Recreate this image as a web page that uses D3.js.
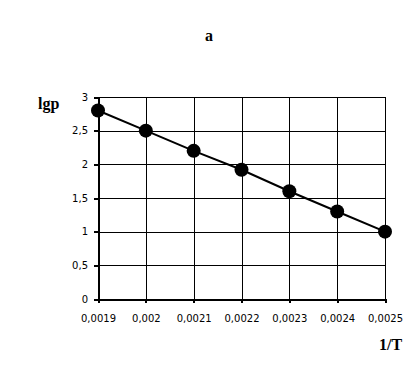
<!DOCTYPE html>
<html>
<head>
<meta charset="utf-8">
<script src="https://cdn.jsdelivr.net/npm/d3@7"></script>
<style>
  body { margin: 0; background: #fff; }
  svg { display: block; }
  .tick text { font-family: "DejaVu Sans", Verdana, sans-serif; font-size: 10px; fill: #000; }
  .lbl { font-family: "Liberation Serif", "Times New Roman", serif; font-weight: bold; font-size: 16px; }
</style>
</head>
<body>
<svg id="chart" width="418" height="389"></svg>
<script>
const invT = [0.0019, 0.002, 0.0021, 0.0022, 0.0023, 0.0024, 0.0025];
const lgp = [2.8, 2.5, 2.2, 1.92, 1.6, 1.3, 1.0];
const xTicks = [0.0019, 0.002, 0.0021, 0.0022, 0.0023, 0.0024, 0.0025];
const yTicks = [0, 0.5, 1, 1.5, 2, 2.5, 3];

const svg = d3.select("#chart");
const margin = { left: 98, right: 33, top: 97, bottom: 90 };
const width = 418 - margin.left - margin.right;
const height = 389 - margin.top - margin.bottom;

const g = svg.append("g")
    .attr("transform", "translate(" + margin.left + "," + margin.top + ")");

const x = d3.scaleLinear().domain([0.0019, 0.0025]).range([0, width]);
const y = d3.scaleLinear().domain([0, 3]).range([height, 0]);

const fmt = d => String(d).replace(".", ",");

// grid
const grid = g.append("g").attr("shape-rendering", "crispEdges");
grid.selectAll(".hgrid").data(yTicks.slice(1)).enter().append("line")
    .attr("x1", 0).attr("x2", width)
    .attr("y1", d => Math.round(y(d)) + 0.5).attr("y2", d => Math.round(y(d)) + 0.5)
    .attr("stroke", "#000").attr("stroke-width", 1);
grid.selectAll(".vgrid").data(xTicks.slice(1)).enter().append("line")
    .attr("x1", d => Math.round(x(d)) + 0.5).attr("x2", d => Math.round(x(d)) + 0.5)
    .attr("y1", 0).attr("y2", height)
    .attr("stroke", "#000").attr("stroke-width", 1);

// axes
const xAxis = g.append("g")
    .attr("transform", "translate(0," + height + ")")
    .call(d3.axisBottom(x).tickValues(xTicks).tickFormat(fmt).tickSize(4).tickPadding(12));
const yAxis = g.append("g")
    .call(d3.axisLeft(y).tickValues(yTicks).tickFormat(fmt).tickSize(4).tickPadding(6));
[xAxis, yAxis].forEach(function(ax) {
    ax.attr("shape-rendering", "crispEdges");
    ax.select(".domain").attr("stroke", "#000").attr("stroke-width", 2);
    ax.selectAll(".tick line").attr("stroke", "#000").attr("stroke-width", 2);
});

// series
const pts = invT.map((v, i) => [v, lgp[i]]);
g.append("path")
    .datum(pts)
    .attr("fill", "none")
    .attr("stroke", "#000")
    .attr("stroke-width", 2)
    .attr("d", d3.line().x(d => x(d[0])).y(d => y(d[1])));
g.selectAll(".pt").data(pts).enter().append("circle")
    .attr("cx", d => x(d[0])).attr("cy", d => y(d[1]))
    .attr("r", 7).attr("fill", "#000");

// labels
svg.append("text").attr("class", "lbl").attr("x", 209).attr("y", 41)
    .attr("text-anchor", "middle").text("a");
svg.append("text").attr("class", "lbl").attr("x", 38).attr("y", 109).text("lgp");
svg.append("text").attr("class", "lbl").attr("x", 379).attr("y", 350).text("1/T");
</script>
</body>
</html>
